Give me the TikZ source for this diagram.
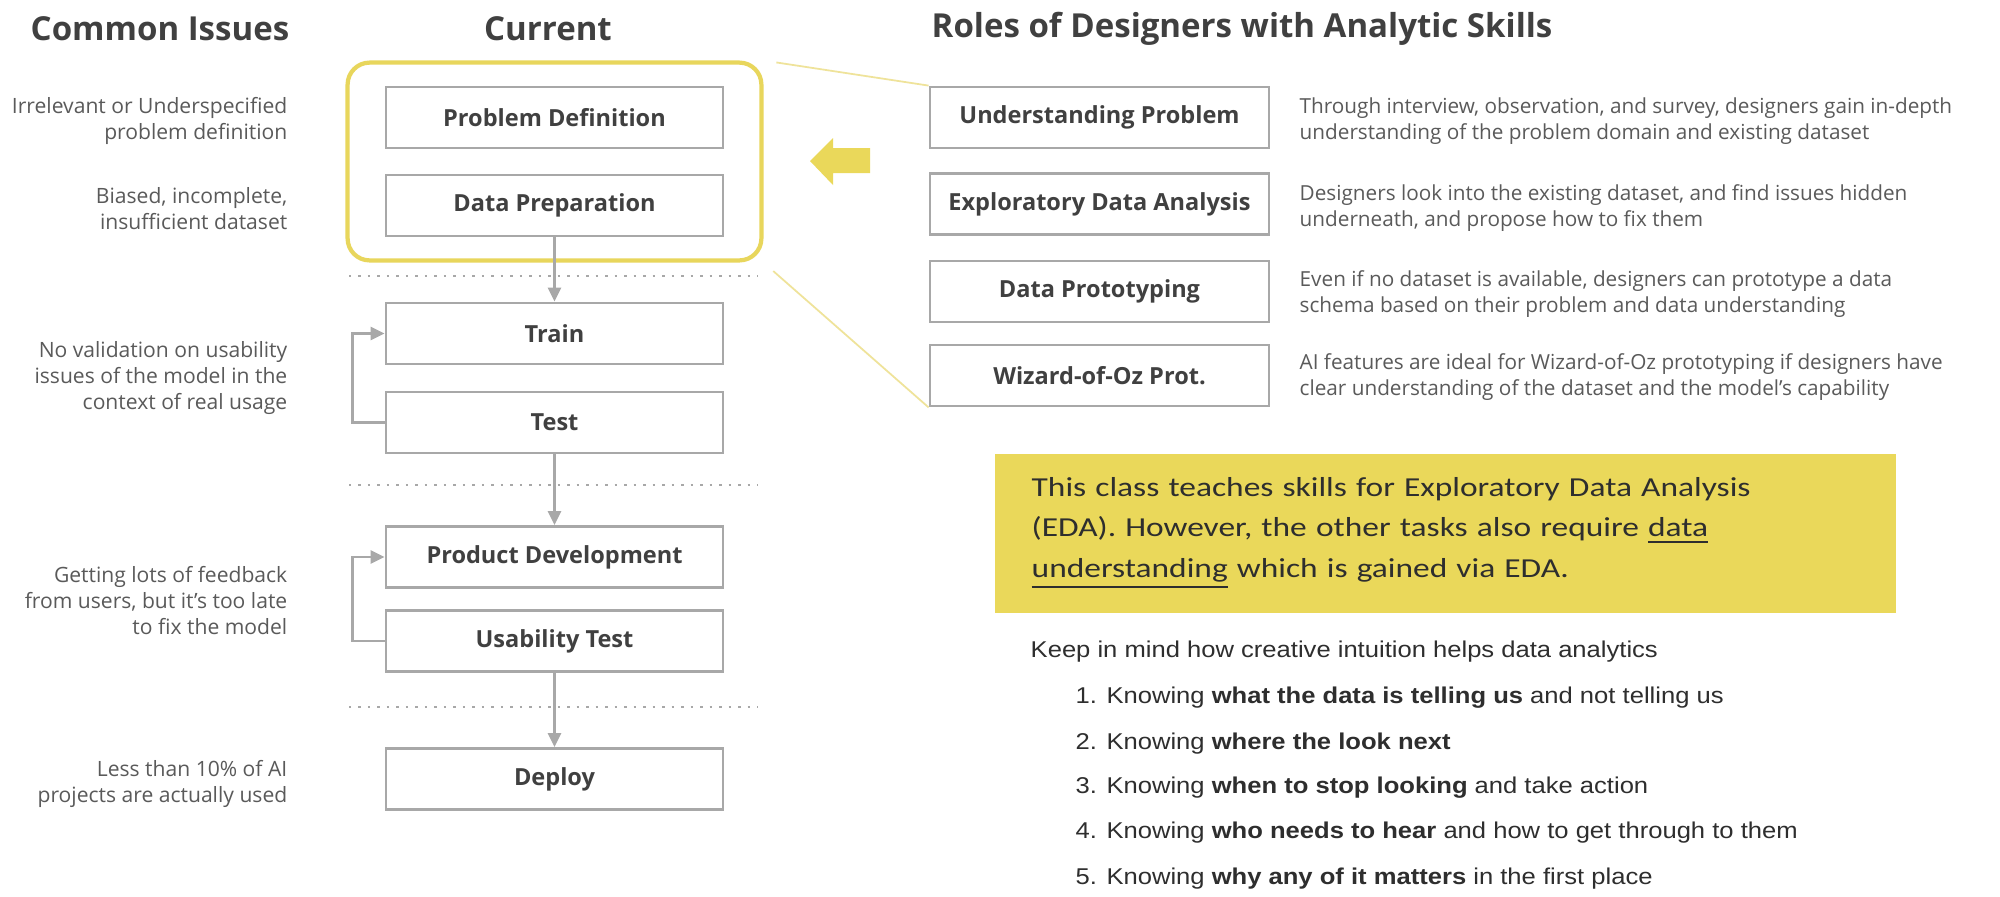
\documentclass[tikz,border=0pt]{standalone}
\usepackage{fontspec}
\setmainfont{Open Sans}
\newfontfamily\calibrifont{Carlito}[FakeStretch=1.22]
\newfontfamily\arialfont{Liberation Sans}[FakeStretch=1.12]
\usetikzlibrary{positioning,arrows.meta,fit}

\definecolor{boxgray}{HTML}{A8A8A8}
\definecolor{issuegray}{HTML}{5A5A5A}
\definecolor{titlegray}{HTML}{404040}
\definecolor{edayellow}{HTML}{EAD85A}
\definecolor{rimyellow}{HTML}{E8D65C}
\definecolor{zoomyellow}{HTML}{EFE39A}
\definecolor{listblack}{HTML}{2E2E2E}

\tikzset{
  heading/.style={inner sep=0pt, font=\fontsize{9.4}{11}\selectfont\bfseries, text=titlegray},
  stage/.style={draw=boxgray, line width=0.8pt, minimum width=33.7mm, minimum height=6.1mm,
    inner sep=0pt, font=\fontsize{6.7}{8}\selectfont\bfseries, text=titlegray},
  role/.style={stage, minimum width=33.9mm},
  issue/.style={anchor=east, align=right, inner sep=0pt, font=\fontsize{6}{7.4}\selectfont, text=issuegray},
  desc/.style={anchor=west, align=left, inner sep=0pt, font=\fontsize{5.9}{7.6}\selectfont, text=issuegray},
  flow/.style={draw=boxgray, line width=0.8pt, -{Triangle[length=1.4mm,width=1.3mm]}},
  divider/.style={draw=boxgray, line width=0.7pt, dotted},
  zoomline/.style={draw=zoomyellow, line width=0.5pt},
  notebox/.style={fill=edayellow, anchor=north west, minimum width=90.1mm, minimum height=15.9mm,
    inner xsep=3.7mm, text width=82.7mm, align=left, text=listblack,
    font=\calibrifont\fontsize{7.8}{11.5}\selectfont},
  listline/.style={anchor=west, inner sep=0pt, text=listblack, font=\arialfont\fontsize{6.5}{8}\selectfont},
}

\begin{document}
\begin{tikzpicture}[x=0.1mm, y=-0.1mm]
\useasboundingbox (0,0) rectangle (2000,896);
\fill[white] (0,0) rectangle (2000,896);

% headings
\node[heading] (hissues) at (160,29) {Common Issues};
\node[heading] (hcurrent) at (548,29) {Current};
\node[heading, anchor=west] (hroles) at (931,29) {Roles of Designers with Analytic Skills};

% current process
\node[stage] (pdef) at (554.5,117.5) {Problem Definition};
\node[stage] (dprep) at (554.5,205.5) {Data Preparation};
\node[stage] (train) at (554.5,333.5) {Train};
\node[stage] (test) at (554.5,422.5) {Test};
\node[stage] (pdev) at (554.5,557) {Product Development};
\node[stage] (utest) at (554.5,641) {Usability Test};
\node[stage] (deploy) at (554.5,779) {Deploy};

\node[draw=rimyellow, line width=1.2pt, rounded corners=2.2mm, inner xsep=3.7mm, inner ysep=2.3mm,
  fit=(pdef)(dprep)] (focus) {};

\draw[divider] (349,276) -- (758,276);
\draw[divider] (349,485) -- (758,485);
\draw[divider] (349,707) -- (758,707);

\draw[flow] (dprep) -- (train);
\draw[flow] (test) -- (pdev);
\draw[flow] (utest) -- (deploy);
\draw[flow] (test.west) -- ++(-32,0) |- (train.west);
\draw[flow] (utest.west) -- ++(-32,0) |- (pdev.west);

% common issues
\node[issue] (i1) at (288,121) {Irrelevant or Underspecified\\problem definition};
\node[issue] (i2) at (288,209) {Biased, incomplete,\\insufficient dataset};
\node[issue] (i3) at (288,378) {No validation on usability\\issues of the model in the\\context of real usage};
\node[issue] (i4) at (288,601) {Getting lots of feedback\\from users, but it’s too late\\to fix the model};
\node[issue] (i5) at (288,784) {Less than 10\% of AI\\projects are actually used};

% roles
\node[role] (uprob) at (1099.5,117.5) {Understanding Problem};
\node[role] (eda) at (1099.5,204) {Exploratory Data Analysis};
\node[role] (dproto) at (1099.5,291.5) {Data Prototyping};
\node[role] (woz) at (1099.5,375.5) {Wizard-of-Oz Prot.};

\node[desc] (d1) at (1299,121) {Through interview, observation, and survey, designers gain in-depth\\understanding of the problem domain and existing dataset};
\node[desc] (d2) at (1299,208) {Designers look into the existing dataset, and find issues hidden\\underneath, and propose how to fix them};
\node[desc] (d3) at (1299,294) {Even if no dataset is available, designers can prototype a data\\schema based on their problem and data understanding};
\node[desc] (d4) at (1299,377) {AI features are ideal for Wizard-of-Oz prototyping if designers have\\clear understanding of the dataset and the model’s capability};

\draw[zoomline, shorten <=1.3mm] (focus.north east) -- (uprob.north west);
\draw[zoomline, shorten <=1.3mm] (focus.south east) -- (woz.south west);

% yellow arrow
\fill[edayellow] (810,161) -- (833,138) -- (833,148) -- (870,148) -- (870,173) -- (833,173) -- (833,185) -- cycle;

% note
\node[notebox] (note) at (994,453) {This class teaches skills for Exploratory Data Analysis\\(EDA). However, the other tasks also require \underline{data}\\\underline{understanding} which is gained via EDA.};

\node[listline] (keep) at (1030,652) {Keep in mind how creative intuition helps data analytics};
\node[listline] (k1) at (1075,698) {1. Knowing \textbf{what the data is telling us} and not telling us};
\node[listline] (k2) at (1075,744) {2. Knowing \textbf{where the look next}};
\node[listline] (k3) at (1075,788) {3. Knowing \textbf{when to stop looking} and take action};
\node[listline] (k4) at (1075,833) {4. Knowing \textbf{who needs to hear} and how to get through to them};
\node[listline] (k5) at (1075,879) {5. Knowing \textbf{why any of it matters} in the first place};
\end{tikzpicture}
\end{document}
